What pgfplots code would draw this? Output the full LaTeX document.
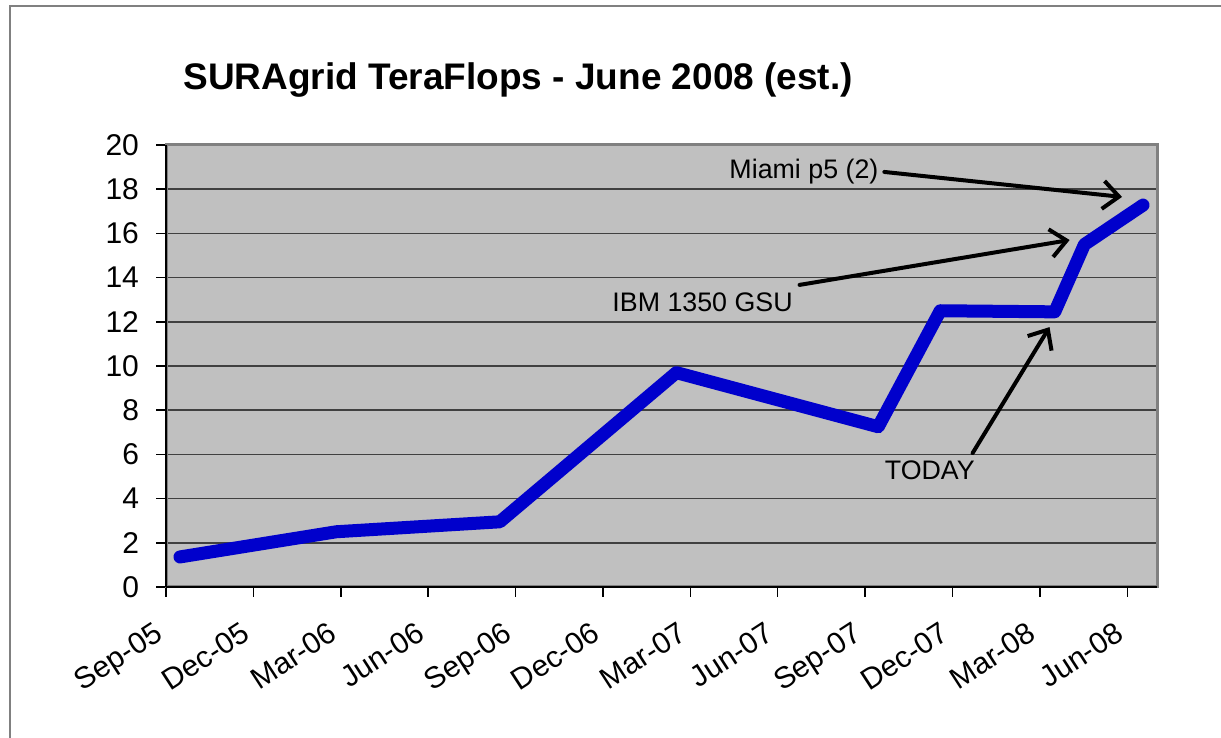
\documentclass[border=0pt]{standalone}
\usepackage{fontspec}
\setmainfont{Liberation Sans}
\usepackage{pgfplots}
\pgfplotsset{compat=1.18}
\usetikzlibrary{arrows.meta}
\definecolor{plotbg}{HTML}{C0C0C0}
\definecolor{linecol}{HTML}{0000CC}
\definecolor{bordergray}{HTML}{808080}
\newcommand{\ticksize}{\fontsize{15}{18}\selectfont}
\begin{document}
\begin{tikzpicture}
\useasboundingbox (0,0) rectangle (610.5pt,369pt);
\draw[bordergray, line width=0.75pt] (5pt,0pt) -- (5pt,366pt) -- (610.5pt,366pt);
\node[anchor=base west, font=\fontsize{18.5}{21}\selectfont\bfseries, inner sep=0pt] at (91.5pt,324pt) {SURAgrid TeraFlops - June 2008 (est.)};
\begin{axis}[
  at={(83pt,75.5pt)}, anchor=south west,
  scale only axis, width=495.5pt, height=221pt,
  xmin=0, xmax=11.34, ymin=0, ymax=20,
  xtick={0,...,11},
  xticklabels={},
  ytick={0,2,...,20},
  xtick pos=left, ytick pos=left,
  tick align=outside, major tick length=5pt,
  tick style={black, line width=0.75pt},
  ymajorgrids, major grid style={black!75, line width=0.75pt},
  axis background/.style={fill=plotbg},
  axis line style={draw=bordergray, line width=1.5pt},
  /pgf/number format/assume math mode=true,
  yticklabel style={font=\ticksize, xshift=-5pt},
  clip=false,
]
\addplot[linecol, line width=6.5pt, line join=round, line cap=round] coordinates {
  (0.16,1.36) (1.95,2.5) (3.82,2.95) (5.84,9.7) (8.15,7.25) (8.86,12.5) (10.17,12.45) (10.51,15.5) (11.18,17.28)
};
\draw[black, line width=1pt] (rel axis cs:0,0) -- (rel axis cs:0,1);
\draw[black, line width=1pt] (rel axis cs:0,0) -- (rel axis cs:1,0);
\node[font=\fontsize{13.4}{16}\selectfont] at (axis cs:7.30,18.78) {Miami p5 (2)};
\draw[line width=2pt, line cap=round, -{Straight Barb[length=8pt,width=14pt,line width=2pt]}] (axis cs:8.22,18.78) -- (axis cs:10.94,17.65);
\node[font=\fontsize{13.4}{16}\selectfont] at (axis cs:6.14,12.9) {IBM 1350 GSU};
\draw[line width=2pt, line cap=round, -{Straight Barb[length=8pt,width=14pt,line width=2pt]}] (axis cs:7.25,13.67) -- (axis cs:10.34,15.70);
\node[font=\fontsize{13.4}{16}\selectfont] at (axis cs:8.74,5.29) {TODAY};
\draw[line width=2pt, line cap=round, -{Straight Barb[length=8pt,width=14pt,line width=2pt]}] (axis cs:9.23,6.06) -- (axis cs:10.11,11.76);
\end{axis}
\foreach \i/\lab in {0/Sep-05,1/Dec-05,2/Mar-06,3/Jun-06,4/Sep-06,5/Dec-06,6/Mar-07,7/Jun-07,8/Sep-07,9/Dec-07,10/Mar-08,11/Jun-08}{
  \node[font=\ticksize, rotate=33, anchor=base east, inner sep=0pt] at ({83pt+\i*43.695pt-0.8pt},{75.5pt-25.65pt}) {\lab};
}
\end{tikzpicture}
\end{document}
